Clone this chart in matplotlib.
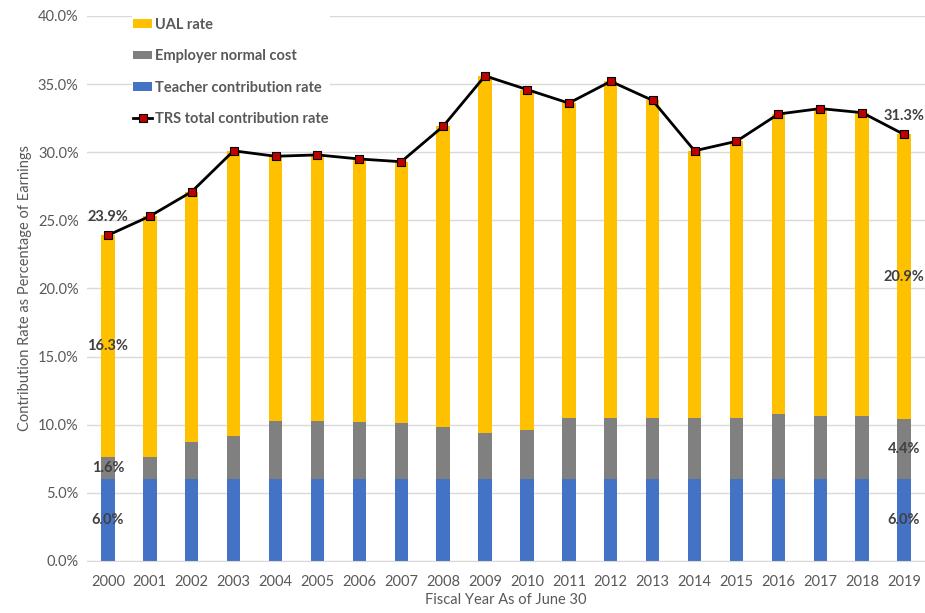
import matplotlib
matplotlib.use("Agg")
import matplotlib.pyplot as plt
import numpy as np

plt.rcParams['font.family'] = ['Lato', 'DejaVu Sans']

years = ['2000', '2001', '2002', '2003', '2004', '2005', '2006', '2007', '2008', '2009',
         '2010', '2011', '2012', '2013', '2014', '2015', '2016', '2017', '2018', '2019']
teacher = [6.0, 6.0, 6.0, 6.0, 6.0, 6.0, 6.0, 6.0, 6.0, 6.0,
           6.0, 6.0, 6.0, 6.0, 6.0, 6.0, 6.0, 6.0, 6.0, 6.0]
employer = [1.6, 1.6, 2.7, 3.2, 4.3, 4.3, 4.2, 4.1, 3.8, 3.4,
            3.6, 4.5, 4.5, 4.5, 4.5, 4.5, 4.8, 4.6, 4.6, 4.4]
ual = [16.3, 17.7, 18.4, 20.9, 19.4, 19.5, 19.3, 19.2, 22.1, 26.2,
       25.0, 23.1, 24.7, 23.3, 19.6, 20.3, 22.0, 22.6, 22.3, 20.9]
total = [23.9, 25.3, 27.1, 30.1, 29.7, 29.8, 29.5, 29.3, 31.9, 35.6,
         34.6, 33.6, 35.2, 33.8, 30.1, 30.8, 32.8, 33.2, 32.9, 31.3]

c_ual = '#FFC000'
c_emp = '#808080'
c_tea = '#4472C4'
txt = '#595959'
lbl = '#404040'

fig = plt.figure(figsize=(9.25, 6.13), dpi=100)
ax = fig.add_axes([0.094, 0.085, 0.906, 0.889])

x = np.arange(len(years))
teacher = np.array(teacher)
employer = np.array(employer)
ual = np.array(ual)
w = 0.32

b_tea = ax.bar(x, teacher, w, color=c_tea, label='Teacher contribution rate', zorder=2)
b_emp = ax.bar(x, employer, w, bottom=teacher, color=c_emp, label='Employer normal cost', zorder=2)
b_ual = ax.bar(x, ual, w, bottom=teacher + employer, color=c_ual, label='UAL rate', zorder=2)
ln, = ax.plot(x, total, color='black', lw=2, marker='s', ms=6, mfc='#C00000',
              mec='black', mew=0.8, label='TRS total contribution rate', zorder=3)

# data labels on first and last bars
for i in [0, len(years) - 1]:
    kw = dict(ha='center', va='center', fontsize=10.5, fontweight='bold', color=lbl, zorder=4)
    ax.text(x[i], teacher[i] / 2, f'{teacher[i]:.1f}%', **kw)
    ax.text(x[i], teacher[i] + employer[i] / 2, f'{employer[i]:.1f}%', **kw)
    ax.text(x[i], teacher[i] + employer[i] + ual[i] / 2, f'{ual[i]:.1f}%', **kw)
    ax.annotate(f'{total[i]:.1f}%', (x[i], total[i]), xytext=(0, 13), textcoords='offset points',
                **kw)

ax.set_xlim(-0.5, len(years) - 0.5)
ax.set_ylim(0, 40)
ax.set_yticks(np.arange(0, 41, 5))
ax.set_yticklabels([f'{v:.1f}%' for v in np.arange(0, 41, 5)])
ax.set_xticks(x)
ax.set_xticklabels(years)
ax.tick_params(axis='both', length=0, labelsize=10.5, labelcolor=txt)
ax.tick_params(axis='x', pad=10)
ax.tick_params(axis='y', pad=6)
ax.grid(axis='y', color='#D9D9D9', lw=1, zorder=0)
ax.set_axisbelow(True)
for s in ['top', 'right', 'left']:
    ax.spines[s].set_visible(False)
ax.spines['bottom'].set_color('#D9D9D9')

ax.set_xlabel('Fiscal Year As of June 30', fontsize=10.5, color=txt, labelpad=3)
ax.set_ylabel('Contribution Rate as Percentage of Earnings', fontsize=10.5, color=txt, labelpad=4)

leg = ax.legend([b_ual, b_emp, b_tea, ln],
                ['UAL rate', 'Employer normal cost', 'Teacher contribution rate',
                 'TRS total contribution rate'],
                loc='upper left', bbox_to_anchor=(0.045, 1.013), frameon=True, fancybox=False,
                edgecolor='none', facecolor='white', framealpha=1,
                prop={'size': 10.5, 'weight': 'bold'}, labelspacing=1.2,
                handlelength=1.3, handleheight=0.5, handletextpad=0.2, borderpad=0.1)
for t in leg.get_texts():
    t.set_color(txt)

fig.savefig('out.png', dpi=100)
